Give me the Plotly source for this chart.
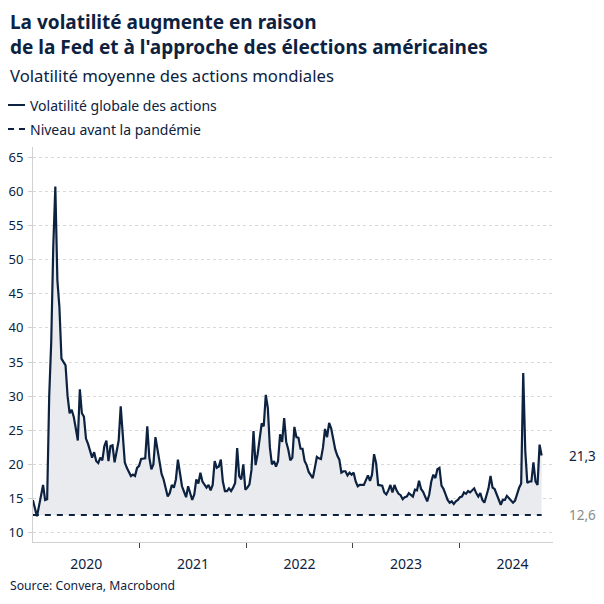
import pandas as pd
import plotly.graph_objects as go

# Weekly global equity volatility (one value per week from 2020-01-01)
vol_2020 = [14.8, 13.6, 12.4, 13.9, 15.8, 17.0, 14.8, 14.9, 30.0, 38.0,
            52.0, 60.7, 47.0, 43.0, 35.5, 34.9, 34.5, 30.0, 27.5, 28.0,
            27.0, 25.3, 23.5, 31.0, 27.5, 27.0, 23.8, 23.0, 22.0, 21.0,
            21.8, 20.5, 20.2, 21.0, 20.6, 22.7, 23.5, 20.5, 22.7, 22.8,
            20.3, 21.8, 23.5, 28.5, 23.5, 20.3, 19.5, 18.8, 18.3, 18.5,
            18.3, 19.5, 19.8]
vol_2021 = [20.8, 20.8, 20.9, 25.6, 21.0, 19.3, 20.0, 24.0, 22.0, 20.5,
            18.6, 17.8, 16.6, 15.3, 15.8, 17.0, 16.6, 17.8, 20.7, 18.5,
            16.8, 16.0, 15.2, 16.8, 15.6, 14.8, 15.6, 17.8, 17.2, 18.8,
            17.5, 17.0, 16.6, 17.0, 16.2, 17.0, 20.5, 19.5, 19.7, 20.7,
            17.5, 16.1, 16.1, 16.5, 16.1, 16.6, 17.3, 22.4, 18.3, 17.8,
            20.0, 16.3]
vol_2022 = [16.6, 17.1, 19.2, 24.9, 19.9, 21.5, 23.6, 26.0, 25.6, 30.2,
            28.3, 22.5, 20.0, 20.5, 19.7, 20.5, 24.4, 23.3, 26.8, 23.3,
            22.2, 20.6, 21.0, 25.5, 24.0, 23.9, 22.3, 22.3, 20.5, 19.9,
            18.9, 18.5, 18.0, 19.5, 21.1, 20.9, 20.8, 22.5, 25.2, 24.0,
            26.1, 25.3, 23.6, 22.2, 21.3, 20.7, 18.8, 19.0, 19.0, 18.4,
            18.8, 18.5]
vol_2023 = [18.8, 17.5, 16.8, 17.0, 17.0, 17.0, 17.7, 18.4, 17.6, 18.5,
            21.5, 20.2, 17.0, 16.9, 16.9, 15.9, 15.6, 16.2, 17.0, 15.9,
            17.0, 16.2, 15.7, 15.5, 14.9, 15.2, 15.3, 15.8, 15.6, 15.3,
            16.3, 16.2, 17.6, 16.4, 16.0, 15.2, 14.6, 15.6, 17.5, 18.5,
            18.0, 19.3, 19.5, 16.9, 16.4, 15.6, 14.8, 14.4, 14.6, 14.2,
            14.6, 14.8]
vol_2024 = [15.2, 15.3, 15.9, 15.7, 16.1, 15.9, 16.2, 16.5, 15.8, 15.3,
            15.8, 14.8, 14.4, 15.3, 16.5, 18.3, 16.6, 16.4, 15.6, 14.7,
            14.1, 14.8, 14.8, 15.4, 15.1, 14.8, 14.4, 14.7, 15.7, 16.6,
            17.2, 33.4, 22.0, 17.3, 17.5, 17.5, 20.3, 17.5, 17.0, 22.9,
            21.3]

pre_pandemic_level = 12.6
start_date = "2020-01-01"
y_ticks = [10, 15, 20, 25, 30, 35, 40, 45, 50, 55, 60, 65]

series_name = "Volatilité globale des actions"
level_name = "Niveau avant la pandémie"
title_line1 = "La volatilité augmente en raison"
title_line2 = "de la Fed et à l'approche des élections américaines"
subtitle_text = "Volatilité moyenne des actions mondiales"
source_text = "Source: Convera, Macrobond"

values = vol_2020 + vol_2021 + vol_2022 + vol_2023 + vol_2024
dates = pd.date_range(start_date, periods=len(values), freq="7D")

NAVY = "#0d2240"
FONT = "Noto Sans, Open Sans, sans-serif"

fig = go.Figure()
fig.add_trace(go.Scatter(
    x=[dates[0], dates[-1]], y=[pre_pandemic_level, pre_pandemic_level],
    mode="lines", name=level_name, showlegend=False,
    line=dict(color=NAVY, width=2, dash="6px,6px"), hoverinfo="skip"))
fig.add_trace(go.Scatter(
    x=dates, y=values, mode="lines", name=series_name, showlegend=False,
    fill="tonexty", fillcolor="#e9ebee",
    line=dict(color=NAVY, width=2.2)))

def fmt(v):
    return f"{v:.1f}".replace(".", ",")

def top_text(text, yshift, size, bold=False, xshift=-25):
    return dict(text=("<b>" + text + "</b>") if bold else text,
                xref="paper", yref="paper", x=0, y=1,
                xanchor="left", yanchor="middle", xshift=xshift, yshift=yshift,
                showarrow=False, font=dict(size=size, color=NAVY, family=FONT))

annotations = [
    top_text(title_line1, 125, 19, bold=True),
    top_text(title_line2, 100, 19, bold=True),
    top_text(subtitle_text, 72, 16.7),
    top_text(series_name, 42, 14, xshift=-5),
    top_text(level_name, 18, 14, xshift=-5),
    dict(text=source_text, xref="paper", yref="paper", x=0, y=0,
         xanchor="left", yanchor="middle", xshift=-25, yshift=-43,
         showarrow=False, font=dict(size=12.2, color=NAVY, family=FONT)),
    dict(text=fmt(values[-1]), xref="paper", yref="y", x=1, y=values[-1],
         xanchor="left", yanchor="middle", xshift=14,
         showarrow=False, font=dict(size=13.5, color=NAVY, family=FONT)),
    dict(text=fmt(pre_pandemic_level), xref="paper", yref="y", x=1, y=pre_pandemic_level,
         xanchor="left", yanchor="middle", xshift=14,
         showarrow=False, font=dict(size=13.5, color="#8a8a8a", family=FONT)),
]

shapes = [
    dict(type="line", xref="paper", yref="paper", xsizemode="pixel", ysizemode="pixel",
         xanchor=0, yanchor=1, x0=-25, x1=-8, y0=42, y1=42,
         line=dict(color=NAVY, width=2)),
    dict(type="line", xref="paper", yref="paper", xsizemode="pixel", ysizemode="pixel",
         xanchor=0, yanchor=1, x0=-25, x1=-8, y0=18, y1=18,
         line=dict(color=NAVY, width=2, dash="6px,5px")),
]

# page is offset by the browser's 8px body margin; plot area in figure coords
fig.update_layout(
    width=604, height=604,
    margin=dict(l=25, r=59, t=139, b=70),
    paper_bgcolor="white", plot_bgcolor="white",
    font=dict(family=FONT, color=NAVY),
    showlegend=False,
    annotations=annotations,
    shapes=shapes,
    xaxis=dict(
        type="date", range=["2020-01-01 12:00", "2024-11-17"], automargin=False,
        tick0=start_date, dtick="M12", tickformat="%Y", ticklabelmode="period",
        ticks="outside", ticklen=5, tickcolor="#444", ticklabelstandoff=4,
        showline=True, linecolor="#d0d0d0", linewidth=1,
        showgrid=False, zeroline=False,
        tickfont=dict(size=14, color=NAVY, family=FONT)),
    yaxis=dict(
        range=[8.64, 66.5], tickvals=y_ticks, automargin=False,
        ticks="outside", ticklen=4, tickcolor="#cfcfcf",
        showline=True, linecolor="#d0d0d0", linewidth=1,
        showgrid=True, gridcolor="#d9d9d9", gridwidth=1, griddash="dot",
        zeroline=False, ticklabelstandoff=2,
        tickfont=dict(size=13, color=NAVY, family=FONT)),
)

fig.write_html("out.html")
